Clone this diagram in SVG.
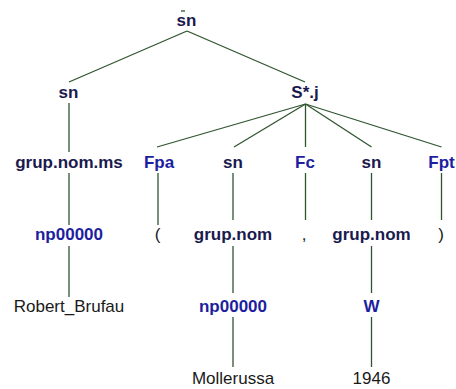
<svg xmlns="http://www.w3.org/2000/svg" width="456" height="389" viewBox="0 0 456 389">
<style>
text{font-family:"Liberation Sans",Arial,sans-serif;font-size:17px;text-anchor:middle}
.nt{font-weight:bold;fill:#1a1a4e}
.pt{font-weight:bold;fill:#1e1ea0}
.tm{fill:#1a1a1a}
.e{stroke:#2f552f;stroke-width:1.3;fill:none}
</style>
<rect width="456" height="389" fill="#fff"/>
<g id="connectors">
<line class="e" x1="181" y1="11" x2="185" y2="11"/>
<line class="e" x1="187" y1="31" x2="69" y2="82"/>
<line class="e" x1="187" y1="31" x2="305" y2="82"/>
<line class="e" x1="69" y1="103" x2="69" y2="152"/>
<line class="e" x1="305.5" y1="104" x2="157" y2="147"/>
<line class="e" x1="305.5" y1="104" x2="234" y2="147"/>
<line class="e" x1="305.5" y1="104" x2="305.5" y2="147"/>
<line class="e" x1="305.5" y1="104" x2="371.5" y2="147"/>
<line class="e" x1="305.5" y1="104" x2="441.5" y2="147"/>
<line class="e" x1="69" y1="173" x2="69" y2="225"/>
<line class="e" x1="158" y1="173" x2="158" y2="225"/>
<line class="e" x1="233" y1="173" x2="233" y2="220"/>
<line class="e" x1="305.5" y1="173" x2="305.5" y2="220"/>
<line class="e" x1="371.5" y1="173" x2="371.5" y2="220"/>
<line class="e" x1="441.5" y1="173" x2="441.5" y2="220"/>
<line class="e" x1="69" y1="246" x2="69" y2="297"/>
<line class="e" x1="233" y1="246" x2="233" y2="293"/>
<line class="e" x1="371.5" y1="246" x2="371.5" y2="293"/>
<line class="e" x1="233" y1="317" x2="233" y2="367"/>
<line class="e" x1="371.5" y1="317" x2="371.5" y2="367"/>
</g>
<g id="n_root"><text class="nt" x="186.5" y="26">sn</text></g>
<g id="n_sn1"><text class="nt" x="68.5" y="97.5">sn</text></g>
<g id="n_S"><text class="nt" x="305" y="98">S*.j</text></g>
<g id="n_grupnomms"><text class="nt" x="69" y="168">grup.nom.ms</text></g>
<g id="n_Fpa"><text class="pt" x="159" y="168">Fpa</text></g>
<g id="n_sn2"><text class="nt" x="233" y="168">sn</text></g>
<g id="n_Fc"><text class="pt" x="305" y="168">Fc</text></g>
<g id="n_sn3"><text class="nt" x="371.5" y="168">sn</text></g>
<g id="n_Fpt"><text class="pt" x="441.5" y="168">Fpt</text></g>
<g id="n_np1"><text class="pt" x="69" y="240">np00000</text></g>
<g id="n_lpar"><text class="tm" x="157.5" y="240">(</text></g>
<g id="n_grupnom1"><text class="nt" x="233" y="240">grup.nom</text></g>
<g id="n_comma"><text class="tm" x="304" y="240">,</text></g>
<g id="n_grupnom2"><text class="nt" x="371.5" y="240">grup.nom</text></g>
<g id="n_rpar"><text class="tm" x="441" y="240">)</text></g>
<g id="n_robert"><text class="tm" x="69" y="311.5">Robert_Brufau</text></g>
<g id="n_np2"><text class="pt" x="233" y="311.5">np00000</text></g>
<g id="n_W"><text class="pt" x="371.5" y="311.5">W</text></g>
<g id="n_moll"><text class="tm" x="233" y="383.5">Mollerussa</text></g>
<g id="n_1946"><text class="tm" x="371.5" y="383.5">1946</text></g>
</svg>
